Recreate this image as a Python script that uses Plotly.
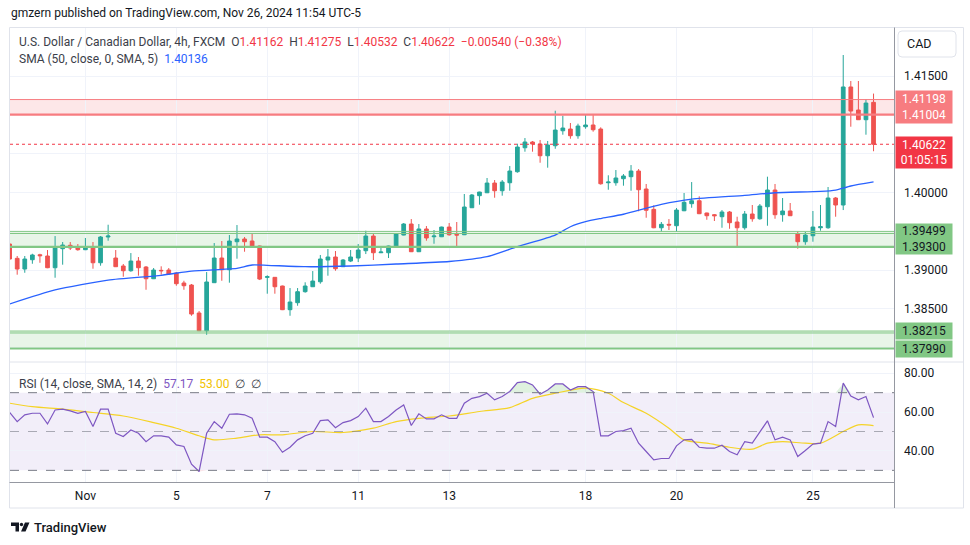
import plotly.graph_objects as go

# ---------------- data ----------------
bar_index = list(range(-10, 105))
opens = [1.39336, 1.39152, 1.39014, 1.39134, 1.39198, 1.39182, 1.39031, 1.39276, 1.39320, 1.39298,
         1.39263, 1.39298, 1.39095, 1.39427, 1.39156, 1.39053, 1.38992, 1.39117, 1.39040, 1.38889,
         1.38997, 1.39001, 1.38963, 1.38834, 1.38808, 1.38447, 1.38219, 1.38838, 1.39156, 1.39005,
         1.39366, 1.39401, 1.39375, 1.39311, 1.38907, 1.38907, 1.38795, 1.38490, 1.38580, 1.38722,
         1.38786, 1.38850, 1.39130, 1.39169, 1.39044, 1.39117, 1.39156, 1.39250, 1.39439, 1.39224,
         1.39224, 1.39298, 1.39452, 1.39594, 1.39237, 1.39530, 1.39430, 1.39430, 1.39555, 1.39461,
         1.39456, 1.39804, 1.39959, 1.39997, 1.40122, 1.40023, 1.40126, 1.40268, 1.40577, 1.40651,
         1.40625, 1.40474, 1.40603, 1.40796, 1.40818, 1.40732, 1.40848, 1.40870, 1.40818, 1.40126,
         1.40126, 1.40178, 1.40204, 1.40277, 1.40045, 1.39783, 1.39546, 1.39590, 1.39572, 1.39765,
         1.39856, 1.39894, 1.39736, 1.39714, 1.39688, 1.39749, 1.39620, 1.39546, 1.39723, 1.39662,
         1.39817, 1.40032, 1.39714, 1.39762, 1.39465, 1.39366, 1.39443, 1.39546, 1.39546, 1.39929,
         1.39839, 1.41360, 1.41063, 1.40938, 1.41162]
highs = [1.39349, 1.39182, 1.39182, 1.39211, 1.39211, 1.39259, 1.39439, 1.39362, 1.39362, 1.39336,
         1.39414, 1.39362, 1.39439, 1.39585, 1.39259, 1.39079, 1.39220, 1.39169, 1.39053, 1.39027,
         1.39049, 1.39027, 1.38975, 1.38863, 1.38821, 1.38473, 1.38975, 1.39349, 1.39375, 1.39452,
         1.39581, 1.39427, 1.39478, 1.39315, 1.38933, 1.38910, 1.38800, 1.38769, 1.38769, 1.38843,
         1.38988, 1.39195, 1.39272, 1.39246, 1.39143, 1.39259, 1.39336, 1.39508, 1.39478, 1.39298,
         1.39315, 1.39478, 1.39607, 1.39658, 1.39594, 1.39568, 1.39517, 1.39560, 1.39607, 1.39620,
         1.39981, 1.39981, 1.40010, 1.40187, 1.40161, 1.40161, 1.40342, 1.40629, 1.40702, 1.40664,
         1.40677, 1.40664, 1.41054, 1.40990, 1.40896, 1.40887, 1.41012, 1.41012, 1.40840, 1.40222,
         1.40290, 1.40238, 1.40354, 1.40303, 1.40110, 1.39835, 1.39620, 1.39658, 1.39800, 1.39994,
         1.40135, 1.39951, 1.39740, 1.39723, 1.39774, 1.39762, 1.39688, 1.39762, 1.39839, 1.39852,
         1.40204, 1.40110, 1.39929, 1.39865, 1.39504, 1.39491, 1.39762, 1.39839, 1.40071, 1.39942,
         1.41772, 1.41437, 1.41437, 1.41205, 1.41275]
lows = [1.39130, 1.38941, 1.38966, 1.39082, 1.39095, 1.39025, 1.38902, 1.39070, 1.39259, 1.39250,
        1.39258, 1.39018, 1.39057, 1.39379, 1.39040, 1.38915, 1.38979, 1.38928, 1.38747, 1.38885,
        1.38941, 1.38945, 1.38799, 1.38747, 1.38412, 1.38215, 1.38167, 1.38835, 1.38863, 1.38838,
        1.39147, 1.39237, 1.39298, 1.38872, 1.38696, 1.38696, 1.38485, 1.38412, 1.38541, 1.38709,
        1.38782, 1.38825, 1.38928, 1.38992, 1.39040, 1.39104, 1.39104, 1.39207, 1.39130, 1.39220,
        1.39156, 1.39295, 1.39448, 1.39233, 1.39233, 1.39379, 1.39340, 1.39426, 1.39443, 1.39302,
        1.39452, 1.39800, 1.39843, 1.39993, 1.39933, 1.39959, 1.40023, 1.40255, 1.40526, 1.40526,
        1.40384, 1.40320, 1.40564, 1.40745, 1.40693, 1.40693, 1.40822, 1.40784, 1.40101, 1.40036,
        1.40088, 1.40088, 1.40023, 1.39758, 1.39675, 1.39540, 1.39495, 1.39517, 1.39495, 1.39760,
        1.39804, 1.39722, 1.39649, 1.39633, 1.39546, 1.39533, 1.39302, 1.39521, 1.39624, 1.39649,
        1.39572, 1.39662, 1.39624, 1.39698, 1.39276, 1.39327, 1.39366, 1.39508, 1.39533, 1.39688,
        1.39774, 1.40848, 1.40935, 1.40745, 1.40532]
closes = [1.39143, 1.39014, 1.39143, 1.39195, 1.39186, 1.39031, 1.39285, 1.39323, 1.39285, 1.39263,
          1.39298, 1.39095, 1.39427, 1.39439, 1.39044, 1.38992, 1.39117, 1.39031, 1.38889, 1.39001,
          1.38992, 1.38950, 1.38825, 1.38799, 1.38434, 1.38219, 1.38847, 1.39156, 1.39005, 1.39375,
          1.39401, 1.39366, 1.39302, 1.38885, 1.38915, 1.38786, 1.38490, 1.38589, 1.38722, 1.38795,
          1.38859, 1.39143, 1.39169, 1.39018, 1.39130, 1.39169, 1.39259, 1.39439, 1.39224, 1.39233,
          1.39311, 1.39465, 1.39594, 1.39237, 1.39530, 1.39414, 1.39439, 1.39555, 1.39456, 1.39452,
          1.39813, 1.39968, 1.40006, 1.40122, 1.40023, 1.40135, 1.40277, 1.40586, 1.40651, 1.40625,
          1.40474, 1.40612, 1.40805, 1.40831, 1.40732, 1.40857, 1.40870, 1.40809, 1.40113, 1.40135,
          1.40187, 1.40213, 1.40277, 1.40036, 1.39771, 1.39546, 1.39590, 1.39581, 1.39774, 1.39874,
          1.39894, 1.39727, 1.39701, 1.39701, 1.39749, 1.39611, 1.39546, 1.39723, 1.39662, 1.39826,
          1.40032, 1.39714, 1.39762, 1.39701, 1.39366, 1.39452, 1.39555, 1.39559, 1.39929, 1.39839,
          1.41360, 1.41050, 1.40938, 1.41153, 1.40622]

sma_index = [-10, -4, 3, 10, 14, 18, 20, 22, 24, 29, 35, 41, 48, 53, 57, 62, 64, 66, 68, 71,
             76, 80, 87, 91, 97, 99, 101, 104]
sma_values = [1.38563, 1.38744, 1.38872, 1.38933, 1.38988, 1.39010, 1.39023, 1.39066, 1.39062,
              1.39044, 1.39053, 1.39079, 1.39111, 1.39173, 1.39302, 1.39452, 1.39559, 1.39624,
              1.39665, 1.39720, 1.39848, 1.39916, 1.39964, 1.39997, 1.40015, 1.40032, 1.40084,
              1.40136]

rsi_values = [59.9, 55.1, 58.6, 59.4, 59.4, 53.9, 61.1, 61.5, 60.6, 59.4,
              60.3, 52.6, 61.5, 61.5, 49.1, 47.4, 50.8, 49.1, 44.8, 47.8,
              47.8, 47.1, 43.1, 42.3, 33.2, 29.4, 49.1, 55.1, 51.7, 58.9,
              59.1, 58.6, 56.8, 47.1, 47.1, 44.8, 39.3, 41.9, 45.7, 47.8,
              49.1, 55.6, 56.0, 52.0, 54.6, 55.6, 57.7, 62.0, 55.1, 55.1,
              57.7, 61.1, 63.7, 53.1, 59.1, 56.5, 56.5, 58.6, 56.8, 56.8,
              64.6, 67.1, 68.0, 69.7, 66.3, 68.0, 70.6, 75.2, 75.7, 74.0,
              69.2, 71.4, 74.5, 74.5, 71.4, 73.1, 73.1, 70.6, 47.8, 47.8,
              50.0, 50.5, 51.7, 44.0, 39.7, 35.4, 36.1, 36.1, 42.6, 45.7,
              46.0, 41.9, 41.4, 41.4, 42.9, 39.7, 38.0, 44.8, 44.0, 50.0,
              55.5, 45.7, 47.1, 45.7, 37.1, 40.2, 43.5, 44.0, 55.1, 52.6,
              74.9, 68.3, 66.3, 68.0, 57.17]

rsi_ma_index = [-10, -7, -3, 1, 5, 9, 12, 15, 17, 20, 23, 26, 30, 34, 38, 41, 44, 48, 52, 56,
                59, 62, 66, 69, 71, 74, 77, 79, 82, 85, 88, 90, 92, 95, 97, 100, 102, 104]
rsi_ma_values = [64.6, 62.8, 61.5, 59.8, 58.0, 54.6, 51.7, 47.8, 45.7, 46.6, 48.3, 48.3, 50.0,
                 49.5, 51.7, 55.1, 56.8, 58.0, 60.3, 62.3, 67.1, 69.7, 72.3, 69.7, 64.9, 59.4,
                 51.7, 45.7, 44.0, 41.9, 40.9, 44.0, 44.8, 44.0, 44.0, 50.0, 53.4, 53.0]

tick_index = [0, 12, 24, 36, 48, 66, 78, 96]
tick_labels = ["Nov", "5", "7", "11", "13", "18", "20", "25"]

price_grid = [1.380, 1.385, 1.390, 1.395, 1.400, 1.405, 1.410, 1.415]
price_grid_text = ["", "1.38500", "1.39000", "", "1.40000", "", "", "1.41500"]

resistance_zone = (1.41004, 1.41198)
support_zone_1 = (1.39300, 1.39499, 1.39472)
support_zone_2 = (1.37990, 1.38215, 1.38190)
last_price = 1.40622

# ---------------- geometry helpers (pixel -> paper) ----------------
L, R, T, B = 10, 894, 27, 482
W, H = R - L, B - T


def PX(x):
    return (x - L) / W


def PY(y):
    return (B - y) / H


split = PY(362)

GREEN = "#26a69a"
RED = "#ef5350"
TXT = "#131722"

fig = go.Figure()

fig.add_trace(go.Candlestick(
    x=bar_index, open=opens, high=highs, low=lows, close=closes,
    increasing=dict(line=dict(color=GREEN, width=1), fillcolor=GREEN),
    decreasing=dict(line=dict(color=RED, width=1), fillcolor=RED),
    whiskerwidth=0, hoverinfo="skip", xaxis="x", yaxis="y"))

fig.add_trace(go.Scatter(
    x=sma_index, y=sma_values, mode="lines",
    line=dict(color="#2962ff", width=1.3, shape="spline", smoothing=0.6),
    hoverinfo="skip", xaxis="x", yaxis="y"))

# RSI overbought / oversold fills
ob = [max(v, 70) for v in rsi_values]
os_ = [min(v, 30) for v in rsi_values]
fig.add_trace(go.Scatter(x=bar_index, y=[70] * len(bar_index), mode="lines",
                         line=dict(width=0), hoverinfo="skip", xaxis="x2", yaxis="y2"))
fig.add_trace(go.Scatter(x=bar_index, y=ob, mode="lines", line=dict(width=0),
                         fill="tonexty", fillcolor="rgba(76,175,80,0.18)",
                         hoverinfo="skip", xaxis="x2", yaxis="y2"))
fig.add_trace(go.Scatter(x=bar_index, y=[30] * len(bar_index), mode="lines",
                         line=dict(width=0), hoverinfo="skip", xaxis="x2", yaxis="y2"))
fig.add_trace(go.Scatter(x=bar_index, y=os_, mode="lines", line=dict(width=0),
                         fill="tonexty", fillcolor="rgba(242,54,69,0.15)",
                         hoverinfo="skip", xaxis="x2", yaxis="y2"))

fig.add_trace(go.Scatter(
    x=rsi_ma_index, y=rsi_ma_values, mode="lines",
    line=dict(color="#f5d327", width=1.2, shape="spline", smoothing=0.8),
    hoverinfo="skip", xaxis="x2", yaxis="y2"))
fig.add_trace(go.Scatter(
    x=bar_index, y=rsi_values, mode="lines",
    line=dict(color="#7e57c2", width=1.2),
    hoverinfo="skip", xaxis="x2", yaxis="y2"))

xrange = [-9.95, 106.7]
grid = "#f0f3fa"

fig.update_layout(
    width=970, height=545,
    margin=dict(l=L, r=970 - R, t=T, b=545 - B),
    paper_bgcolor="white", plot_bgcolor="white",
    showlegend=False,
    font=dict(family="Roboto, sans-serif", color=TXT, size=12),
    xaxis=dict(domain=[0, 1], anchor="y", range=xrange, tickvals=tick_index,
               showticklabels=False, showgrid=True, gridcolor=grid, zeroline=False,
               rangeslider=dict(visible=False), fixedrange=True, ticks=""),
    yaxis=dict(domain=[split, 1], anchor="x", range=[1.37816, 1.42133], side="right",
               tickvals=price_grid, ticktext=price_grid_text, showgrid=True,
               gridcolor=grid, zeroline=False, ticks="", ticklabelstandoff=9,
               tickfont=dict(size=12, color=TXT), fixedrange=True),
    xaxis2=dict(domain=[0, 1], anchor="y2", range=xrange, tickvals=tick_index,
                ticktext=tick_labels, showgrid=True, gridcolor=grid, zeroline=False,
                ticks="", ticklabelstandoff=5, tickfont=dict(size=12, color=TXT),
                fixedrange=True),
    yaxis2=dict(domain=[0, split], anchor="x2", range=[24.0, 85.8], side="right",
                tickvals=[40, 60, 80], ticktext=["40.00", "60.00", "80.00"],
                showgrid=True, gridcolor=grid, zeroline=False, ticks="",
                ticklabelstandoff=9, tickfont=dict(size=12, color=TXT), fixedrange=True),
)

shapes = []


def hline(y, color, width, yref="y", dash="solid"):
    shapes.append(dict(type="line", xref="paper", yref=yref, x0=0, x1=1, y0=y, y1=y,
                       line=dict(color=color, width=width, dash=dash), layer="above"))


# zones
shapes.append(dict(type="rect", xref="paper", yref="y", x0=0, x1=1,
                   y0=resistance_zone[0], y1=resistance_zone[1],
                   fillcolor="rgba(242,54,69,0.12)", line=dict(width=0), layer="below"))
hline(resistance_zone[1], "#f77c80", 1)
hline(resistance_zone[0], "#f77c80", 2.2)
for z in (support_zone_1, support_zone_2):
    shapes.append(dict(type="rect", xref="paper", yref="y", x0=0, x1=1, y0=z[0], y1=z[1],
                       fillcolor="rgba(76,175,80,0.13)", line=dict(width=0), layer="below"))
    hline(z[1], "#81c784", 1)
    hline(z[2], "#81c784", 1)
    hline(z[0], "#81c784", 2.2)
hline(last_price, "#f23645", 1, dash="dot")

# RSI bands
shapes.append(dict(type="rect", xref="paper", yref="y2", x0=0, x1=1, y0=30, y1=70,
                   fillcolor="rgba(126,87,194,0.10)", line=dict(width=0), layer="below"))
hline(70, "#787b86", 1, yref="y2", dash="dash")
hline(50, "rgba(120,123,134,0.6)", 1, yref="y2", dash="dash")
hline(30, "#787b86", 1, yref="y2", dash="dash")

# frame lines
frame = "#e0e3eb"
axis_c = "#9598a1"
shapes.append(dict(type="rect", xref="paper", yref="paper", x0=PX(9.5), x1=PX(963.5),
                   y0=PY(508), y1=PY(27.5), line=dict(color=frame, width=1), layer="above"))
shapes.append(dict(type="line", xref="paper", yref="paper", x0=PX(9.5), x1=PX(963.5),
                   y0=split, y1=split, line=dict(color=frame, width=1), layer="above"))
shapes.append(dict(type="line", xref="paper", yref="paper", x0=PX(894.5), x1=PX(894.5),
                   y0=PY(508), y1=PY(27.5), line=dict(color=axis_c, width=1), layer="above"))
shapes.append(dict(type="line", xref="paper", yref="paper", x0=PX(9.5), x1=PX(894.5),
                   y0=PY(482.5), y1=PY(482.5), line=dict(color=axis_c, width=1), layer="above"))


def rounded(x0, y0, x1, y1, r):
    pts = [f"M {PX(x0 + r)},{PY(y0)}", f"L {PX(x1 - r)},{PY(y0)}",
           f"Q {PX(x1)},{PY(y0)} {PX(x1)},{PY(y0 + r)}", f"L {PX(x1)},{PY(y1 - r)}",
           f"Q {PX(x1)},{PY(y1)} {PX(x1 - r)},{PY(y1)}", f"L {PX(x0 + r)},{PY(y1)}",
           f"Q {PX(x0)},{PY(y1)} {PX(x0)},{PY(y1 - r)}", f"L {PX(x0)},{PY(y0 + r)}",
           f"Q {PX(x0)},{PY(y0)} {PX(x0 + r)},{PY(y0)}", "Z"]
    return " ".join(pts)


shapes.append(dict(type="path", xref="paper", yref="paper", path=rounded(898, 31, 956, 57, 4),
                   fillcolor="white", line=dict(color=frame, width=1), layer="above"))

# TradingView logo glyph
shapes.append(dict(type="path", xref="paper", yref="paper",
                   path=f"M {PX(11)},{PY(522.5)} L {PX(19)},{PY(522.5)} L {PX(19)},{PY(531.5)} "
                        f"L {PX(15.5)},{PY(531.5)} L {PX(15.5)},{PY(526)} L {PX(11)},{PY(526)} Z",
                   fillcolor=TXT, line=dict(width=0), layer="above"))
shapes.append(dict(type="circle", xref="paper", yref="paper", x0=PX(19.8), x1=PX(23.2),
                   y0=PY(526.2), y1=PY(522.8), fillcolor=TXT, line=dict(width=0), layer="above"))
shapes.append(dict(type="path", xref="paper", yref="paper",
                   path=f"M {PX(25)},{PY(522.5)} L {PX(29.5)},{PY(522.5)} L {PX(25.5)},{PY(531.5)} "
                        f"L {PX(21)},{PY(531.5)} Z",
                   fillcolor=TXT, line=dict(width=0), layer="above"))

fig.update_layout(shapes=shapes)

annotations = []
NB = "\u00a0"
GRAY = "#3b3e49"
RV = "#f23645"


def span(t, c):
    return f'<span style="color:{c}">{t}</span>'


annotations.append(dict(xref="paper", yref="paper", x=PX(9), y=PY(13), xanchor="left",
                        yanchor="middle", showarrow=False,
                        text="gmzern published on TradingView.com, Nov 26, 2024 11:54 UTC-5",
                        font=dict(size=12, color=TXT)))
line1 = (span("U.S. Dollar / Canadian Dollar, 4h, FXCM", GRAY) + NB * 2 +
         span("O", GRAY) + span("1.41162", RV) + NB * 2 +
         span("H", GRAY) + span("1.41275", RV) + NB * 2 +
         span("L", GRAY) + span("1.40532", RV) + NB * 2 +
         span("C", GRAY) + span("1.40622", RV) + NB * 2 +
         span("\u22120.00540 (\u22120.38%)", RV))
annotations.append(dict(xref="paper", yref="paper", x=PX(17), y=PY(42), xanchor="left",
                        yanchor="middle", showarrow=False, text=line1,
                        font=dict(size=12, color=GRAY)))
line2 = span("SMA (50, close, 0, SMA, 5)", GRAY) + NB * 2 + span("1.40136", "#2962ff")
annotations.append(dict(xref="paper", yref="paper", x=PX(17), y=PY(59), xanchor="left",
                        yanchor="middle", showarrow=False, text=line2,
                        font=dict(size=12, color=GRAY)))
line3 = (span("RSI (14, close, SMA, 14, 2)", GRAY) + NB * 2 + span("57.17", "#7e57c2") +
         NB * 2 + span("53.00", "#f2c200") + NB * 2 + span("\u2205", GRAY) + NB * 2 +
         span("\u2205", GRAY))
annotations.append(dict(xref="paper", yref="paper", x=PX(17), y=PY(384), xanchor="left",
                        yanchor="middle", showarrow=False, text=line3,
                        font=dict(size=12, color=GRAY)))
annotations.append(dict(xref="paper", yref="paper", x=PX(32), y=PY(527), xanchor="left",
                        yanchor="middle", showarrow=False, text="TradingView",
                        font=dict(size=13, color=TXT, weight=500)))
annotations.append(dict(xref="paper", yref="paper", x=PX(905), y=PY(44), xanchor="left",
                        yanchor="middle", showarrow=False, text="CAD",
                        font=dict(size=12.5, color=TXT)))

# price-scale labels
lab_x = PX(895)
annotations.append(dict(xref="paper", yref="y", x=lab_x, xanchor="left",
                        y=(resistance_zone[0] + resistance_zone[1]) / 2, yanchor="middle",
                        showarrow=False, text="1.41198<br>1.41004", width=56, height=32,
                        bgcolor="#f77c80", borderpad=0, font=dict(size=12, color="white")))
annotations.append(dict(xref="paper", yref="y", x=lab_x, xanchor="left",
                        y=last_price, yanchor="top", yshift=8,
                        showarrow=False, text="1.40622<br>01:05:15", width=56, height=31,
                        bgcolor="#f23645", borderpad=0, font=dict(size=12, color="white")))
annotations.append(dict(xref="paper", yref="y", x=lab_x, xanchor="left",
                        y=(support_zone_1[0] + support_zone_1[1]) / 2, yanchor="middle",
                        showarrow=False, text="1.39499<br>1.39300", width=56, height=30,
                        bgcolor="#81c784", borderpad=0, font=dict(size=12, color=TXT)))
annotations.append(dict(xref="paper", yref="y", x=lab_x, xanchor="left",
                        y=support_zone_2[1], yanchor="middle",
                        showarrow=False, text="1.38215", width=56, height=16,
                        bgcolor="#81c784", borderpad=0, font=dict(size=12, color=TXT)))
annotations.append(dict(xref="paper", yref="y", x=lab_x, xanchor="left",
                        y=support_zone_2[0], yanchor="middle",
                        showarrow=False, text="1.37990", width=56, height=16,
                        bgcolor="#81c784", borderpad=0, font=dict(size=12, color=TXT)))

fig.update_layout(annotations=annotations)

fig.write_html("out.html", config={"displayModeBar": False},
               post_script="document.body.style.margin='0';")
